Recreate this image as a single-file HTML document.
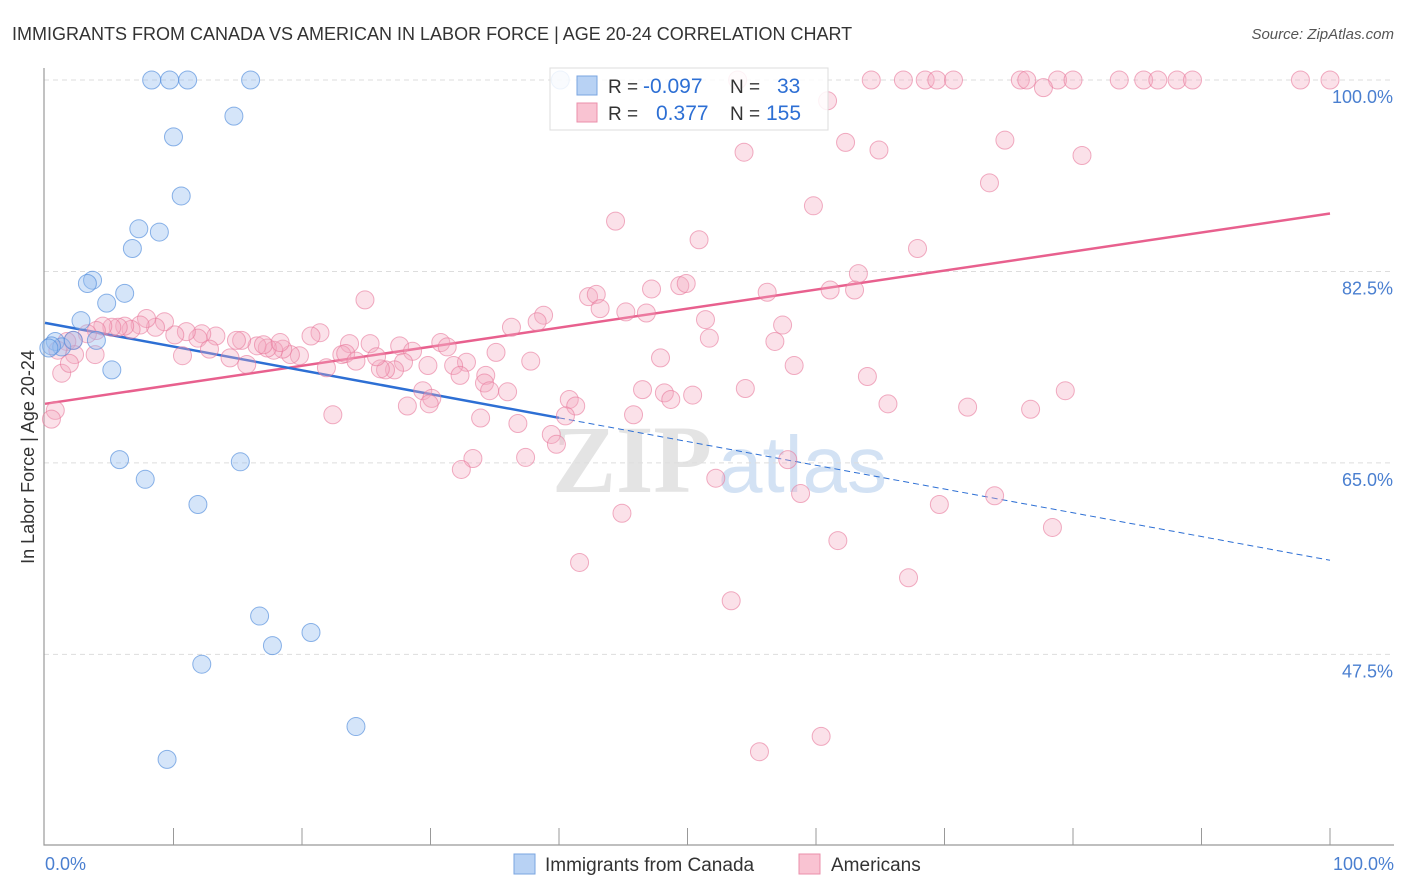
<!DOCTYPE html>
<html><head><meta charset="utf-8"><style>
body{margin:0;background:#fff;font-family:"Liberation Sans",sans-serif;}
svg{display:block}
</style></head><body>
<svg id="chart" width="1406" height="892">
<text x="12" y="40" font-size="18" fill="#333">IMMIGRANTS FROM CANADA VS AMERICAN IN LABOR FORCE | AGE 20-24 CORRELATION CHART</text>
<text x="1394" y="39" font-size="15" fill="#555" font-style="italic" text-anchor="end">Source: ZipAtlas.com</text>
<g><text x="552" y="492" font-size="96" font-family="Liberation Serif,serif" fill="#e4e4e4" font-weight="bold">ZIP</text><text x="718" y="492" font-size="80" fill="#d3e2f4">atlas</text></g>
<g id="grid"></g><g id="axes"></g><g id="trends"></g><g id="pts"></g>
<text transform="translate(34,457) rotate(-90)" font-size="18" fill="#333" text-anchor="middle">In Labor Force | Age 20-24</text>
<g id="legend">
<rect x="550" y="68" width="278" height="62" fill="#fff" fill-opacity="0.85" stroke="#ddd"/>
<rect x="577" y="76" width="20" height="19" fill="#b8d2f4" stroke="#7aa5e0"/>
<rect x="577" y="103" width="20" height="19" fill="#f9c3d2" stroke="#eb8fab"/>
<text x="608" y="93" font-size="19" fill="#333">R = </text><text x="643" y="93" font-size="21" fill="#2d6fd4">-0.097</text>
<text x="730" y="93" font-size="19" fill="#333">N = </text><text x="777" y="93" font-size="21" fill="#2d6fd4">33</text>
<text x="608" y="120" font-size="19" fill="#333">R = </text><text x="656" y="120" font-size="21" fill="#2d6fd4">0.377</text>
<text x="730" y="120" font-size="19" fill="#333">N = </text><text x="766" y="120" font-size="21" fill="#2d6fd4">155</text>
</g>
<g>
<rect x="514" y="854" width="21" height="20" fill="#b8d2f4" stroke="#7aa5e0"/>
<text x="545" y="871" font-size="19" fill="#333">Immigrants from Canada</text>
<rect x="799" y="854" width="21" height="20" fill="#f9c3d2" stroke="#eb8fab"/>
<text x="831" y="871" font-size="19" fill="#333">Americans</text>
</g>
<text x="45" y="870" font-size="18" fill="#4a7fd0">0.0%</text>
<text x="1394" y="870" font-size="18" fill="#4a7fd0" text-anchor="end">100.0%</text>
</svg>
<script>
const yTicks=[100,82.5,65,47.5];
const yTickLabels=["100.0%","82.5%","65.0%","47.5%"];
const canadaX=[8.3,9.7,11.1,16.0,14.7,10.0,10.6,7.3,8.9,6.8,3.7,3.3,6.2,4.8,2.8,4.0,0.8,1.3,2.2,0.5,5.2,5.8,7.8,15.2,11.9,16.7,17.7,20.7,12.2,24.2,9.5,40.1,0.3];
const canadaY=[100,100,100,100,96.7,94.8,89.4,86.4,86.1,84.6,81.7,81.4,80.5,79.6,78.0,76.2,76.1,75.6,76.2,75.7,73.5,65.3,63.5,65.1,61.2,51.0,48.3,49.5,46.6,40.9,37.9,100,75.5];
const amerX=[53.9,64.3,66.8,68.5,69.4,70.7,75.9,76.4,78.8,80.0,83.6,85.5,86.6,88.1,89.3,97.7,100,60.9,77.7,54.4,62.3,64.9,74.7,80.7,73.5,44.4,59.8,50.9,67.9,63.3,42.3,42.9,43.2,45.2,47.2,49.4,49.9,56.2,61.1,63.0,38.8,38.3,46.8,51.4,57.4,36.3,51.7,56.8,24.9,21.4,20.7,23.7,25.3,27.6,30.8,31.3,28.6,35.1,37.8,32.8,31.8,29.8,27.9,27.2,26.5,26.1,23.1,23.4,24.2,25.8,21.9,19.8,19.1,18.5,17.8,17.3,16.5,17.0,18.3,15.3,14.9,13.3,12.2,11.9,12.8,14.4,15.7,11.0,10.1,9.3,8.6,7.9,7.4,6.7,6.2,5.7,5.2,4.5,4.0,3.3,2.2,1.7,1.0,2.3,3.9,10.7,1.3,1.9,0.8,0.5,32.3,34.3,34.2,34.6,36.0,29.4,30.1,28.2,29.9,22.4,33.9,36.8,40.8,41.3,40.5,39.4,39.8,37.4,33.3,32.4,45.8,46.5,48.2,48.7,50.4,54.5,58.3,64.0,65.6,71.8,76.7,79.4,47.9,57.8,52.2,58.8,69.6,73.9,78.4,61.7,67.2,44.9,41.6,53.4,55.6,60.4];
const amerY=[100,100,100,100,100,100,100,100,100,100,100,100,100,100,100,100,100,98.1,99.3,93.4,94.3,93.6,94.5,93.1,90.6,87.1,88.5,85.4,84.6,82.3,80.2,80.4,79.1,78.8,80.9,81.2,81.4,80.6,80.8,80.8,78.5,77.9,78.7,78.1,77.6,77.4,76.4,76.1,79.9,76.9,76.6,75.9,75.9,75.7,76.0,75.6,75.2,75.1,74.3,74.2,73.9,73.9,74.2,73.5,73.5,73.6,74.9,75.0,74.3,74.7,73.7,74.8,74.9,75.4,75.3,75.5,75.7,75.8,76.0,76.2,76.2,76.6,76.8,76.4,75.4,74.6,74.0,77.0,76.7,77.9,77.4,78.2,77.6,77.2,77.5,77.4,77.4,77.5,77.1,76.8,76.2,76.1,75.3,74.9,74.9,74.8,73.2,74.1,69.8,69.0,73.0,73.0,72.3,71.6,71.5,71.6,70.9,70.2,70.4,69.4,69.1,68.6,70.8,70.2,69.3,67.6,66.7,65.5,65.4,64.4,69.4,71.7,71.4,70.8,71.2,71.8,73.9,72.9,70.4,70.1,69.9,71.6,74.6,65.3,63.6,62.2,61.2,62.0,59.1,57.9,54.5,60.4,55.9,52.4,38.6,40.0];
const canadaTrend=[77.8,56.1];
const amerTrend=[70.4,87.8];
const canadaSolidEnd=40;

const NS="http://www.w3.org/2000/svg";
const X=v=>45+v*12.85;
const Y=v=>80+(100-v)*10.94;
function mk(tag,attrs,parent){const e=document.createElementNS(NS,tag);for(const k in attrs)e.setAttribute(k,attrs[k]);parent.appendChild(e);return e;}
const grid=document.getElementById('grid'),axes=document.getElementById('axes'),trends=document.getElementById('trends'),pts=document.getElementById('pts');
yTicks.forEach((t,i)=>{
 const l=mk('line',{x1:44,x2:1394,y1:Y(t),y2:Y(t),stroke:'#ddd','stroke-dasharray':'5,4'},grid);
 
 
 const tx=mk('text',{x:1393,y:Y(t)+23,'font-size':18,fill:'#4a7fd0','text-anchor':'end'},grid);
 tx.textContent=yTickLabels[i];
 
 
});
const ax=mk('path',{d:'M44,68V845H1394',stroke:'#999',fill:'none','stroke-width':1.2},axes);


for(let k=1;k<=10;k++){
 const t=mk('line',{x1:X(k*10),x2:X(k*10),y1:828,y2:845,stroke:'#999'},axes);
 
 
}
const at=v=>canadaTrend[0]+(canadaTrend[1]-canadaTrend[0])*v/100;
const pl=mk('line',{x1:X(0),y1:Y(amerTrend[0]),x2:X(100),y2:Y(amerTrend[1]),stroke:'#e8608e','stroke-width':2.5},trends);


amerX.forEach((x,i)=>{
 const c=mk('circle',{cx:X(x),cy:Y(amerY[i]),r:9,fill:'rgba(244,170,192,0.35)',stroke:'rgba(232,120,155,0.6)','stroke-width':1},pts);
 
 
});
canadaX.forEach((x,i)=>{
 const c=mk('circle',{cx:X(x),cy:Y(canadaY[i]),r:9,fill:'rgba(150,190,240,0.4)',stroke:'rgba(80,140,220,0.65)','stroke-width':1},pts);
 
 
});
const bl=mk('line',{x1:X(0),y1:Y(at(0)),x2:X(canadaSolidEnd),y2:Y(at(canadaSolidEnd)),stroke:'#2d6fd4','stroke-width':2.5},trends);


const bd=mk('line',{x1:X(canadaSolidEnd),y1:Y(at(canadaSolidEnd)),x2:X(100),y2:Y(at(100)),stroke:'#2d6fd4','stroke-width':1,'stroke-dasharray':'6,4'},trends);


document.getElementById('chart').appendChild(document.getElementById('legend'));
</script>
</body></html>
